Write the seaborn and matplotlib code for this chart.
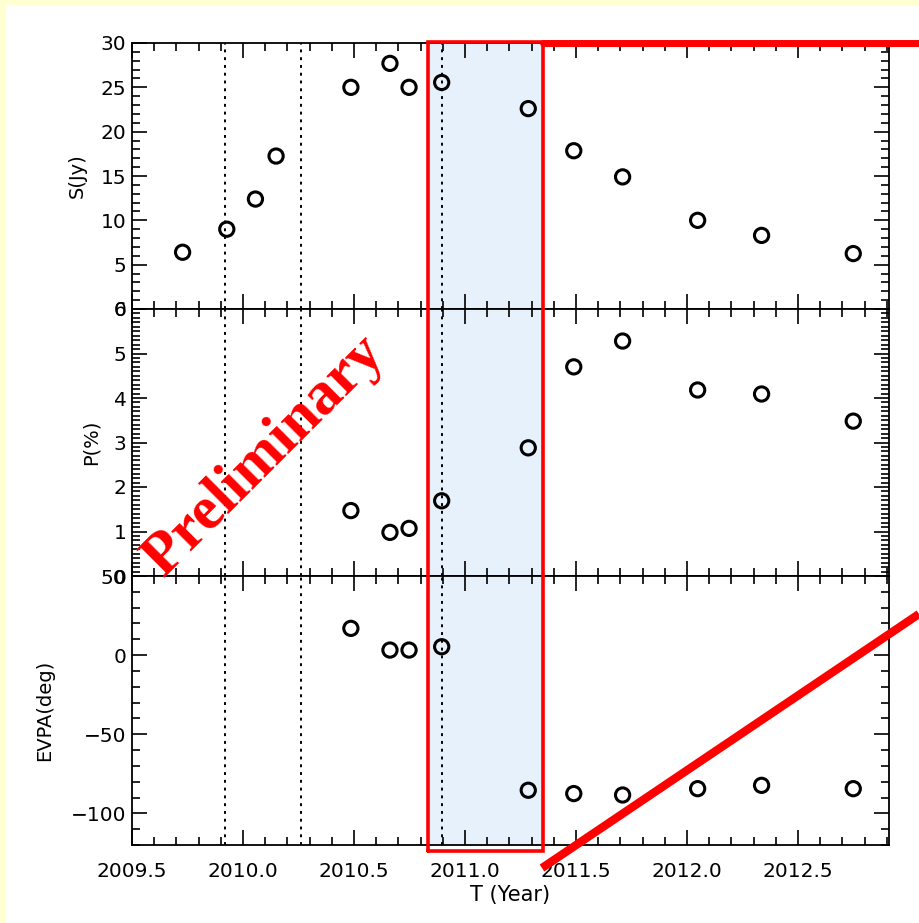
import numpy as np
import pandas as pd
import matplotlib
matplotlib.use("Agg")
import matplotlib.pyplot as plt
import matplotlib.transforms as mtransforms
from matplotlib.lines import Line2D
from matplotlib.ticker import MultipleLocator
import seaborn as sns

# ---------------- data ----------------
t_flux = [2009.728, 2009.927, 2010.056, 2010.149, 2010.486, 2010.662, 2010.748,
          2010.895, 2011.285, 2011.490, 2011.710, 2012.048, 2012.336, 2012.749]
flux = [6.4, 9.0, 12.4, 17.25, 25.0, 27.7, 25.0, 25.55, 22.6, 17.85, 14.9, 10.0, 8.3, 6.25]

t_pol = [2010.486, 2010.662, 2010.748, 2010.895, 2011.285, 2011.490, 2011.710,
         2012.048, 2012.336, 2012.749]
pol = [1.47, 0.98, 1.07, 1.69, 2.88, 4.70, 5.28, 4.18, 4.09, 3.48]
evpa = [16.9, 3.2, 3.2, 5.3, -85.4, -87.5, -88.4, -84.4, -82.3, -84.4]

dotted_lines = [2009.92, 2010.26, 2010.895]
span = (2010.835, 2011.35)

x_ticks = [2009.5, 2010.0, 2010.5, 2011.0, 2011.5, 2012.0, 2012.5]
x_ticklabels = ["2009.5", "2010.0", "2010.5", "2011.0", "2011.5", "2012.0", "2012.5"]
xlim = (2009.5, 2012.91)

panels = [
    dict(x=t_flux, y=flux, ylabel="S(Jy)", ylim=(0, 30), major=5, minor=1),
    dict(x=t_pol, y=pol, ylabel="P(%)", ylim=(0, 6), major=1, minor=0.1),
    dict(x=t_pol, y=evpa, ylabel="EVPA(deg)", ylim=(-120, 50), major=50, minor=10),
]

# ---------------- figure ----------------
sns.set_style("ticks")
plt.rcParams["font.family"] = ["DejaVu Sans"]
plt.rcParams["text.color"] = "black"
plt.rcParams["axes.labelcolor"] = "black"
plt.rcParams["xtick.color"] = "black"
plt.rcParams["ytick.color"] = "black"

W, H = 919, 923
fig = plt.figure(figsize=(W / 100, H / 100), dpi=100)
fig.patch.set_facecolor("white")

# light yellow frame strips (top and left)
fig.add_artist(plt.Rectangle((0, 1 - 4 / H), 1, 4 / H, transform=fig.transFigure,
                             color="#FFFFD2", zorder=0))
fig.add_artist(plt.Rectangle((0, 0), 5 / W, 1, transform=fig.transFigure,
                             color="#FFFFD2", zorder=0))

left, right = 132 / W, 889 / W
edges = [43, 309, 576, 845]
label_pads = [10, 9, 12]
axes = []
for i, p in enumerate(panels):
    top_px, bot_px = edges[i], edges[i + 1]
    ax = fig.add_axes([left, 1 - bot_px / H, right - left, (bot_px - top_px) / H])
    axes.append(ax)
    df = pd.DataFrame({"t": p["x"], "v": p["y"]})
    ax.axvspan(span[0], span[1], color="#E7F1FC", zorder=0, lw=0)
    for xv in dotted_lines:
        ax.axvline(xv, color="black", ls=(0, (1.5, 2.5)), lw=1.4, zorder=1)
    sns.scatterplot(data=df, x="t", y="v", ax=ax, marker="o", s=105,
                    facecolors="none", edgecolor="black", linewidth=2.2, zorder=3)
    ax.set_xlim(*xlim)
    ax.set_ylim(*p["ylim"])
    ax.yaxis.set_major_locator(MultipleLocator(p["major"]))
    ax.yaxis.set_minor_locator(MultipleLocator(p["minor"]))
    ax.set_xticks(x_ticks)
    ax.xaxis.set_minor_locator(MultipleLocator(0.1))
    ax.tick_params(which="both", direction="in", top=True, right=True,
                   width=1.2, color="black")
    ax.tick_params(which="major", length=11)
    ax.tick_params(which="minor", length=6)
    ax.tick_params(axis="y", labelsize=14.5, pad=4, labelcolor="black")
    for s in ax.spines.values():
        s.set_linewidth(1.3)
        s.set_color("black")
    ax.set_ylabel(p["ylabel"], fontsize=14, labelpad=label_pads[i], color="black")
    ax.set_xlabel("")
    if i < 2:
        ax.set_xticklabels([])
    else:
        ax.set_xticklabels(x_ticklabels, fontsize=14.5)
        ax.tick_params(axis="x", labelsize=14.5, pad=12, labelcolor="black")
        ax.set_xlabel("T (Year)", fontsize=15, labelpad=3, color="black")
    ax.set_facecolor("white")

# ---------------- red annotations ----------------
ax_b = axes[2]
trans = mtransforms.blended_transform_factory(ax_b.transData, fig.transFigure)
y_top = 1 - 42 / H
y_bot = 1 - 851 / H
rx0, rx1 = span
rect_x = [rx0, rx0, rx1, rx1, rx0]
rect_y = [y_bot, y_top, y_top, y_bot, y_bot]
fig.add_artist(Line2D(rect_x, rect_y, transform=trans, color="red", lw=2.6, zorder=10,
                      solid_joinstyle="miter"))
fig.add_artist(Line2D([543 / W, 1.0], [1 - 43 / H, 1 - 43 / H], transform=fig.transFigure,
                      color="red", lw=5, zorder=10))
fig.add_artist(Line2D([542 / W, 1.0], [1 - 868 / H, 1 - 614 / H], transform=fig.transFigure,
                      color="red", lw=6, zorder=10, solid_capstyle="butt"))

fig.text(264 / W, 1 - 456 / H, "Preliminary", rotation=45, color="red",
         fontsize=44, fontweight="bold", family=["Liberation Serif", "DejaVu Serif"],
         ha="center", va="center", zorder=11)

fig.savefig("out.png", dpi=100)
